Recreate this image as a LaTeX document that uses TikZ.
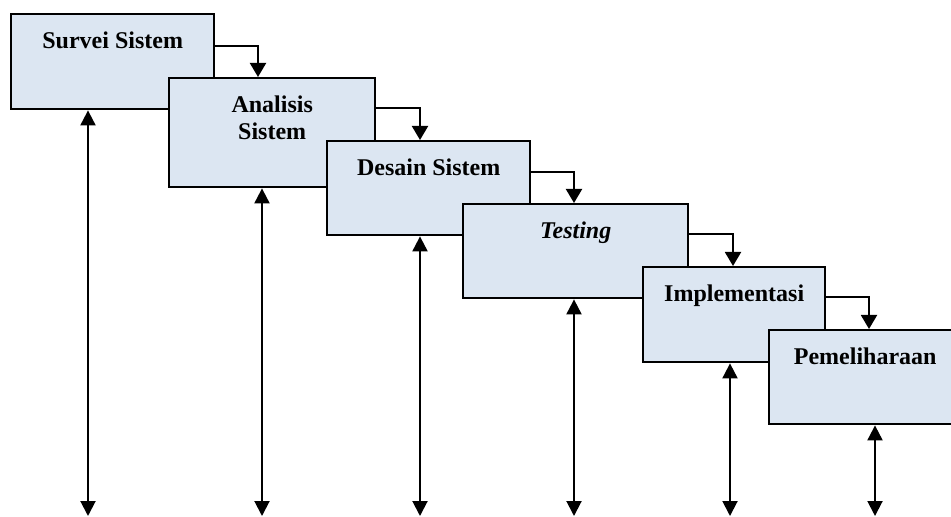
\documentclass[tikz,border=0pt]{standalone}
\usepackage{fontspec}
\setmainfont{Liberation Serif}
\usepackage{xcolor}
\usepackage{tikz}
\usetikzlibrary{positioning,arrows.meta}
\definecolor{BoxFill}{HTML}{DCE6F2}
\definecolor{LineDark}{HTML}{000000}

\begin{document}
\begin{tikzpicture}[x=0.5pt,y=-0.5pt,
          every node/.style={font=\fontsize{12}{13.8}\selectfont\bfseries},
          stepbox/.style={draw=LineDark, fill=BoxFill, line width=1.2pt,
            anchor=north west, inner sep=0pt},
          steptext/.style={anchor=north, inner sep=0pt, align=center,
            yshift=-9pt, text=LineDark},
          ar/.style={-{Triangle[length=7pt,width=8pt]},LineDark,line width=1pt},
          dar/.style={{Triangle[length=7.5pt,width=7.5pt]}-{Triangle[length=7.5pt,width=7.5pt]},
            LineDark,line width=1pt}]
        \clip (0,0) rectangle (951,517);
        \node[stepbox, minimum width=101.5pt, minimum height=47.5pt] (s1) at (10,13) {};
        \node[steptext] (t1) at (s1.north) {Survei Sistem};
        \node[stepbox, minimum width=103pt, minimum height=54.5pt] (s2) at (168,77) {};
        \node[steptext] (t2) at (s2.north) {Analisis\\Sistem};
        \node[stepbox, minimum width=101.5pt, minimum height=47pt] (s3) at (326,140) {};
        \node[steptext] (t3) at (s3.north) {Desain Sistem};
        \node[stepbox, minimum width=112.5pt, minimum height=47pt] (s4) at (462,203) {};
        \node[steptext] (t4) at (s4.north) {\textit{Testing}};
        \node[stepbox, minimum width=91pt, minimum height=47.5pt] (s5) at (642,266) {};
        \node[steptext] (t5) at (s5.north) {Implementasi};
        \node[stepbox, minimum width=96pt, minimum height=47pt] (s6) at (768,329) {};
        \node[steptext] (t6) at (s6.north) {Pemeliharaan};
        % alur antar tahap
        \draw[ar] (s1.east |- 0,46) -| (s2.north -| 258,0);
        \draw[ar] (s2.east |- 0,108) -| (s3.north -| 420,0);
        \draw[ar] (s3.east |- 0,172) -| (s4.north -| 574,0);
        \draw[ar] (s4.east |- 0,234) -| (s5.north -| 733,0);
        \draw[ar] (s5.east |- 0,297) -| (s6.north -| 869,0);
        % panah dua arah ke bawah
        \coordinate (b1) at (88,516);  \coordinate (b2) at (262,516);
        \coordinate (b3) at (420,516); \coordinate (b4) at (574,516);
        \coordinate (b5) at (730,516); \coordinate (b6) at (875,516);
        \draw[dar] (s1.south -| b1) -- (b1);
        \draw[dar] (s2.south -| b2) -- (b2);
        \draw[dar] (s3.south -| b3) -- (b3);
        \draw[dar] (s4.south -| b4) -- (b4);
        \draw[dar] (s5.south -| b5) -- (b5);
        \draw[dar] (s6.south -| b6) -- (b6);
      \end{tikzpicture}
\end{document}
